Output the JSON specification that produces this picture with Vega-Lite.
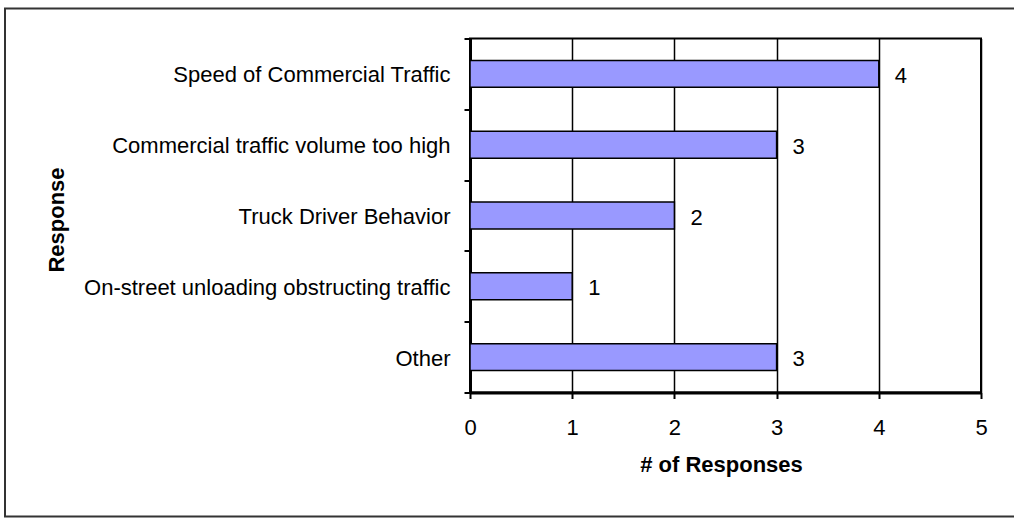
{
  "$schema": "https://vega.github.io/schema/vega-lite/v6.json",
  "width": 511,
  "height": 354,
  "autosize": {"type": "none"},
  "padding": {"left": 470, "top": 38.5, "right": 33, "bottom": 125.5},
  "background": "white",
  "config": {
    "font": "Liberation Sans",
    "view": {"stroke": "black", "strokeWidth": 2}
  },
  "datasets": {
    "responses": [
      {"response": "Speed of Commercial Traffic", "count": 4},
      {"response": "Commercial traffic volume too high", "count": 3},
      {"response": "Truck Driver Behavior", "count": 2},
      {"response": "On-street unloading obstructing traffic", "count": 1},
      {"response": "Other", "count": 3}
    ],
    "frame": [{}]
  },
  "layer": [
    {
      "data": {"name": "frame"},
      "mark": {"type": "rect", "fill": null, "stroke": "#333333", "strokeWidth": 2, "clip": false},
      "encoding": {
        "x": {"value": -465},
        "x2": {"value": 560},
        "y": {"value": -30},
        "y2": {"value": 478}
      }
    },
    {
      "data": {"name": "responses"},
      "mark": {"type": "bar", "fill": "#9999FF", "stroke": "black", "strokeWidth": 1.5, "height": {"band": 0.38}},
      "encoding": {
        "y": {
          "field": "response",
          "type": "nominal",
          "sort": null,
          "scale": {"paddingInner": 0, "paddingOuter": 0},
          "axis": {
            "tickBand": "extent",
            "ticks": true,
            "tickSize": 6,
            "tickWidth": 2,
            "tickColor": "black",
            "domainColor": "black",
            "domainWidth": 3,
            "labelFontSize": 22,
            "labelColor": "black",
            "labelPadding": 14,
            "labelLimit": 0,
            "labelOffset": 1,
            "title": "Response",
            "titleFontSize": 22,
            "titleFontWeight": "bold",
            "titleColor": "black",
            "titleAngle": 270,
            "titleBaseline": "alphabetic",
            "titleX": -407,
            "titleY": 181
          }
        },
        "x": {
          "field": "count",
          "type": "quantitative",
          "scale": {"domain": [0, 5], "nice": false},
          "axis": {
            "values": [0, 1, 2, 3, 4, 5],
            "format": "d",
            "grid": true,
            "gridColor": "black",
            "gridWidth": 1.5,
            "gridOpacity": 1,
            "domainColor": "black",
            "domainWidth": 3,
            "tickColor": "black",
            "tickSize": 6,
            "tickWidth": 2,
            "labelFontSize": 22,
            "labelColor": "black",
            "labelPadding": 19,
            "labelFlush": false,
            "title": "# of Responses",
            "titleFontSize": 22,
            "titleFontWeight": "bold",
            "titleColor": "black",
            "titleBaseline": "alphabetic",
            "titleX": 251,
            "titleY": 79
          }
        }
      }
    },
    {
      "data": {"name": "responses"},
      "mark": {"type": "text", "align": "left", "baseline": "middle", "dx": 16, "dy": 2, "fontSize": 22, "color": "black"},
      "encoding": {
        "y": {"field": "response", "type": "nominal", "sort": null},
        "x": {"field": "count", "type": "quantitative"},
        "text": {"field": "count", "type": "quantitative"}
      }
    }
  ]
}
